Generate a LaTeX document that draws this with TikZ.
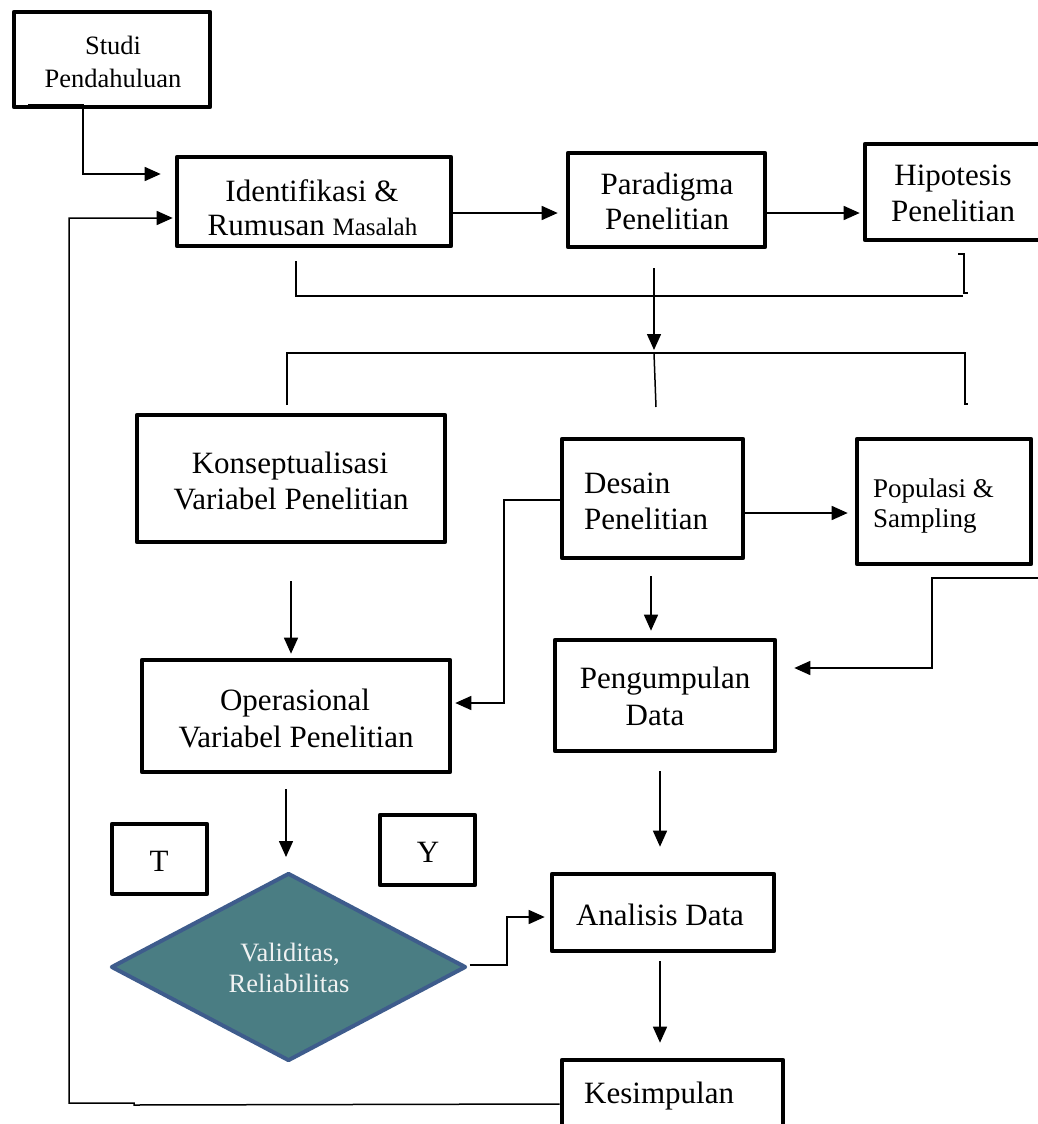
\documentclass[tikz,border=0pt]{standalone}
\usepackage{fontspec}
\setmainfont{Liberation Serif}
\usetikzlibrary{arrows.meta,calc,shapes.geometric}
\definecolor{diafill}{RGB}{74,125,131}
\definecolor{diaedge}{RGB}{62,92,140}
\definecolor{diatext}{RGB}{240,242,242}
\begin{document}
\begin{tikzpicture}[x=1pt,y=-1pt,
  box/.style={draw, rectangle, line width=4.6pt, line join=round, inner sep=0pt},
  conn/.style={draw, line width=1.5pt},
  arr/.style={conn, -{Triangle[length=16pt,width=14pt]}},
  txt/.style={anchor=base, inner sep=0pt, font=\fontsize{31}{36}\selectfont},
  txtl/.style={txt, anchor=base west},
  smalltxt/.style={anchor=base, inner sep=0pt, font=\fontsize{26.5}{30}\selectfont},
  diatxt/.style={smalltxt, text=diatext},
  decision/.style={diamond, draw=diaedge, fill=diafill, line width=4pt, inner sep=0pt, line join=round}
]
\fill[white] (0,0) rectangle (1037,1124);
\useasboundingbox (0,0) rectangle (1037,1124);

% boxes
\node[box, minimum width=196pt, minimum height=95pt] (studi) at (112,59.5) {};
\node[box, minimum width=274pt, minimum height=89pt] (ident) at (314,201.5) {};
\node[box, minimum width=197pt, minimum height=94pt] (parad) at (666.5,200) {};
\node[box, minimum width=178pt, minimum height=96pt] (hipo) at (954,192) {};
\node[box, minimum width=308pt, minimum height=127pt] (konsep) at (291,478.5) {};
\node[box, minimum width=308pt, minimum height=112pt] (oper) at (296,716) {};
\node[box, minimum width=181pt, minimum height=119pt] (desain) at (652.5,498.5) {};
\node[box, minimum width=174pt, minimum height=125pt] (popul) at (944,501.5) {};
\node[box, minimum width=220pt, minimum height=111pt] (pengum) at (665,695.5) {};
\node[box, minimum width=222pt, minimum height=77pt] (analisis) at (663,912.5) {};
\node[box, minimum width=221pt, minimum height=72pt] (kesimp) at (672.5,1096) {};
\node[box, minimum width=95pt, minimum height=70pt] (tbox) at (159.5,859) {};
\node[box, minimum width=95pt, minimum height=70pt] (ybox) at (427.5,850) {};
\node[decision, minimum width=355pt, minimum height=188pt] (diam) at (288.5,967) {};

% texts
\node[smalltxt] (studiA) at (113,55) {Studi};
\node[smalltxt] (studiB) at (113,87) {Pendahuluan};
\node[txt] (identA) at (312,201) {Identifikasi \&};
\node[txt] (identB) at (312.5,235) {Rumusan {\fontsize{25}{30}\selectfont Masalah}};
\node[txt] (paradA) at (667,194) {Paradigma};
\node[txt] (paradB) at (667,229) {Penelitian};
\node[txt] (hipoA) at (953,185) {Hipotesis};
\node[txt] (hipoB) at (953,221) {Penelitian};
\node[txt] (konsepA) at (290,473) {Konseptualisasi};
\node[txt] (konsepB) at (291,509) {Variabel Penelitian};
\node[txt] (operA) at (295,710) {Operasional};
\node[txt] (operB) at (296,747) {Variabel Penelitian};
\node[txtl] (desainA) at (584,493) {Desain};
\node[txtl] (desainB) at (584,529) {Penelitian};
\node[smalltxt, anchor=base west, font=\fontsize{27}{30}\selectfont] (populA) at (873,497) {Populasi \&};
\node[smalltxt, anchor=base west, font=\fontsize{27}{30}\selectfont] (populB) at (873,527) {Sampling};
\node[txt] (pengumA) at (665,688) {Pengumpulan};
\node[txt] (pengumB) at (655,725) {Data};
\node[txt] (analisisA) at (660,925) {Analisis Data};
\node[txtl] (kesimpA) at (584,1103) {Kesimpulan};
\node[txt] (tA) at (159,871) {T};
\node[txt] (yA) at (428,862) {Y};
\node[diatxt] (diamA) at (290,961) {Validitas,};
\node[diatxt] (diamB) at (289,992) {Reliabilitas};

% free ends / junctions
\coordinate (studiOut) at (28,105);
\coordinate (identStub) at (296,261);
\coordinate (brTop) at (963,296);
\coordinate (jn) at (654,353);
\coordinate (jnEnd) at (656,407);
\coordinate (brL) at (287,405);
\coordinate (brR) at (965,404);
\coordinate (popOut) at (1040,578);

% connectors
\draw[arr] (studiOut) -- (83,105) |- ($(ident.west)+(-14,-27.5)$);
\draw[arr] ($(kesimp.west)+(0,8)$) -- (134,1105) -- (134,1103) -- (69,1103) |- ($(ident.west)+(-2,16.5)$);
\draw[arr] ($(ident.east)+(0,11.5)$) -- ($(parad.west)+(-8,13)$);
\draw[arr] ($(parad.east)+(0,13)$) -- ($(hipo.west)+(-3,21)$);
\draw[conn] (identStub) -- (296,296) -- (brTop);
\draw[conn] (958,254) -- (964,254) -- (964,293) -- (968,293);
\draw[arr] ($(parad.south)+(-12.5,19)$) -- ($(jn)+(0,-3)$);
\draw[conn] (jn) -- (jnEnd);
\draw[conn] (brL) -- (287,353) -- (965,353) -- (brR) -- (968,404);
\draw[arr] ($(konsep.south)+(0,37)$) -- ($(oper.north)+(-5,-4)$);
\draw[arr] ($(desain.west)+(0,1.5)$) -- (504,500) |- ($(oper.east)+(3,-13)$);
\draw[arr] ($(desain.east)+(0,14.5)$) -- ($(popul.west)+(-7,11.5)$);
\draw[arr] ($(desain.south)+(-1.5,16)$) -- ($(pengum.north)+(-14,-7)$);
\draw[arr] (popOut) -- (932,578) |- ($(pengum.east)+(17,-27.5)$);
\draw[arr] ($(pengum.south)+(-5,18)$) -- ($(analisis.north)+(-3,-25)$);
\draw[arr] ($(analisis.south)+(-3,8)$) -- ($(kesimp.north)+(-12.5,-15)$);
\draw[arr] ($(oper.south)+(-10,15)$) -- ($(diam.north)+(-2.5,-14)$);
\draw[arr] ($(diam.east)+(1.5,-2)$) -- (507,965) |- ($(analisis.west)+(-5,4.5)$);
\end{tikzpicture}
\end{document}
